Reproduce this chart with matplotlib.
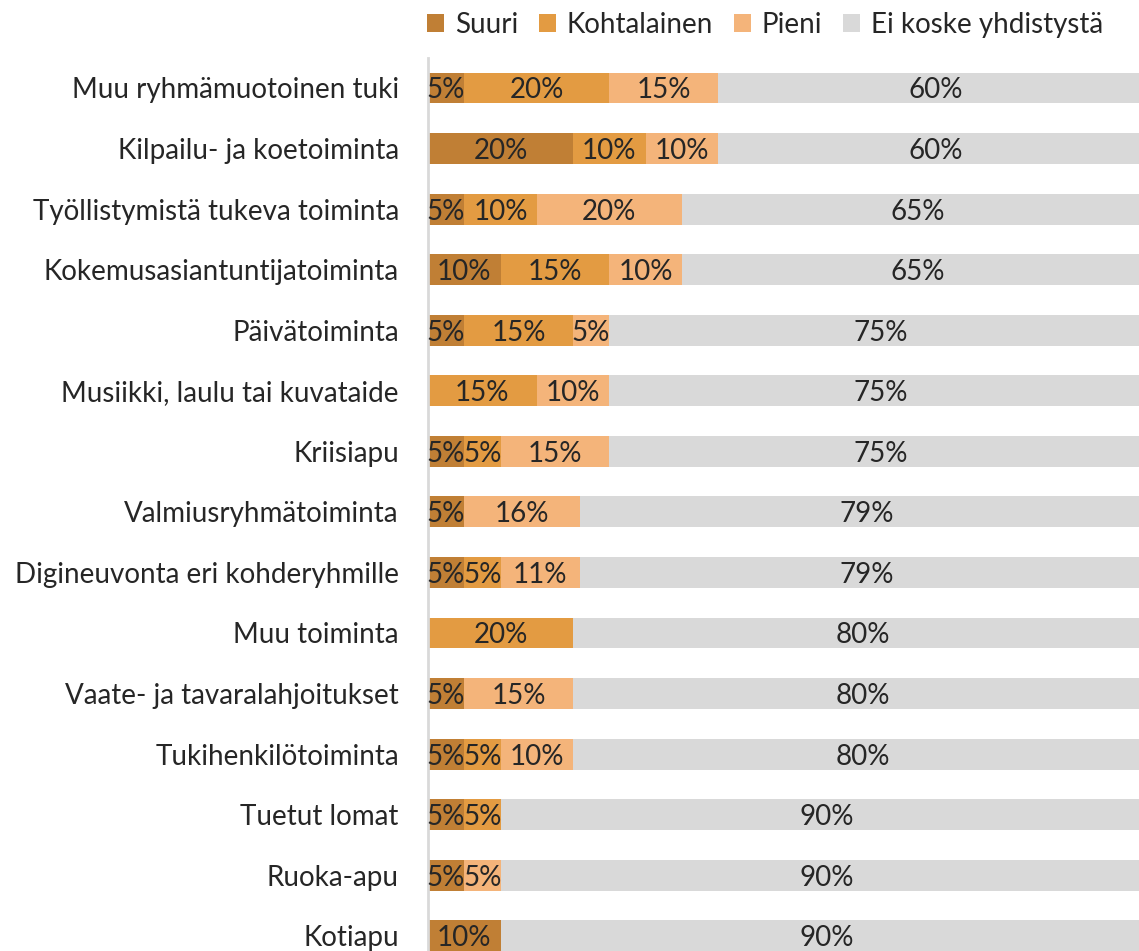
import matplotlib
matplotlib.use("Agg")
import matplotlib.pyplot as plt
import numpy as np

plt.rcParams["font.family"] = ["Lato", "DejaVu Sans"]

CATEGORIES = [
    "Muu ryhmämuotoinen tuki",
    "Kilpailu- ja koetoiminta",
    "Työllistymistä tukeva toiminta",
    "Kokemusasiantuntijatoiminta",
    "Päivätoiminta",
    "Musiikki, laulu tai kuvataide",
    "Kriisiapu",
    "Valmiusryhmätoiminta",
    "Digineuvonta eri kohderyhmille",
    "Muu toiminta",
    "Vaate- ja tavaralahjoitukset",
    "Tukihenkilötoiminta",
    "Tuetut lomat",
    "Ruoka-apu",
    "Kotiapu",
]
SERIES = ["Suuri", "Kohtalainen", "Pieni", "Ei koske yhdistystä"]
suuri = [5, 20, 5, 10, 5, 0, 5, 5, 5, 0, 5, 5, 5, 5, 10]
kohtalainen = [20, 10, 10, 15, 15, 15, 5, 0, 5, 20, 0, 5, 5, 0, 0]
pieni = [15, 10, 20, 10, 5, 10, 15, 16, 11, 0, 15, 10, 0, 5, 0]
ei_koske = [60, 60, 65, 65, 75, 75, 75, 79, 79, 80, 80, 80, 90, 90, 90]
COLORS = ["#C07F35", "#E39B42", "#F4B47A", "#D9D9D9"]

W, H = 1139, 951
fig = plt.figure(figsize=(W / 100, H / 100), dpi=100)
ax_left = 428 / W
ax_top = 1 - 57.7 / H
ax_bottom = 1 - 966 / H
ax = fig.add_axes([ax_left, ax_bottom, 1 - ax_left, ax_top - ax_bottom])

y = np.arange(len(CATEGORIES))
left = np.zeros(len(CATEGORIES))
FS = 20
for name, vals, color in zip(SERIES, [suuri, kohtalainen, pieni, ei_koske], COLORS):
    vals = np.array(vals, dtype=float)
    ax.barh(y, vals, left=left, height=0.51, color=color, label=name, linewidth=0)
    for yi, l, v in zip(y, left, vals):
        if v > 0:
            ax.text(l + v / 2, yi, f"{v:g}%", ha="center", va="center_baseline",
                    fontsize=FS, color="#262626")
    left += vals

ax.set_xlim(0, 711 / 7.25)
ax.set_ylim(len(CATEGORIES) - 0.5, -0.5)
ax.set_yticks(y)
ax.set_yticklabels(CATEGORIES, fontsize=FS, color="#262626")
ax.tick_params(axis="y", length=0, pad=21)
ax.set_xticks([])
for side in ["top", "right", "bottom"]:
    ax.spines[side].set_visible(False)
ax.spines["left"].set_color("#D9D9D9")
ax.spines["left"].set_linewidth(2)

fig.legend(loc="center left", bbox_to_anchor=(427 / W, 1 - 25 / H), ncol=4,
           frameon=False, fontsize=FS, handlelength=0.6, handleheight=0.6,
           handletextpad=0.4, columnspacing=0.75, borderaxespad=0, borderpad=0,
           labelcolor="#262626")

fig.savefig("out.png", dpi=100)
